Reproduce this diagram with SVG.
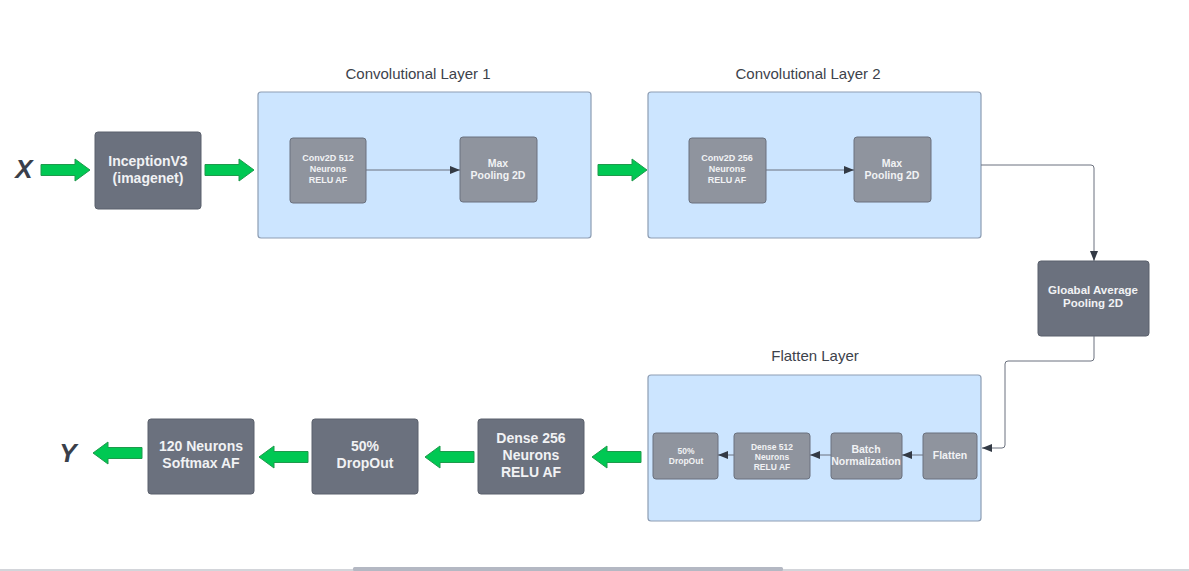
<svg xmlns="http://www.w3.org/2000/svg" width="1189" height="571" viewBox="0 0 1189 571">
<defs>
<style>
.dark{fill:#6b717e;stroke:#5a606c;stroke-width:1}
.light{fill:#8f949e;stroke:#6b717e;stroke-width:1}
.cont{fill:#cce5ff;stroke:#8d9db3;stroke-width:1.2}
.t1{font-family:"Liberation Sans",Arial,sans-serif;font-weight:bold;fill:#f1f2f4;text-anchor:middle}
.title{font-family:"Liberation Sans",Arial,sans-serif;font-size:15px;fill:#3d424b;text-anchor:middle}
.conn{fill:none;stroke:#6b717e;stroke-width:1}
.ga{fill:#00c853;stroke:#1e9a4c;stroke-width:1;stroke-linejoin:round}
.xy{font-family:"Liberation Sans",Arial,sans-serif;font-weight:bold;font-style:italic;font-size:26px;fill:#3a3f4a;text-anchor:middle}
</style>
<marker id="ah" markerWidth="10" markerHeight="8" refX="10" refY="4" orient="auto" markerUnits="userSpaceOnUse">
<path d="M0,0 L10,4 L0,8 Z" fill="#333a45"/>
</marker>
<path id="garrow" d="M0,-5.5 H34 V-11 L49,0 L34,11 V5.5 H0 Z"/>
</defs>
<rect width="1189" height="571" fill="#ffffff"/>

<text class="title" x="418" y="79">Convolutional Layer 1</text>
<text class="title" x="808" y="79">Convolutional Layer 2</text>
<text class="title" x="815" y="361">Flatten Layer</text>

<g id="x-label"><text class="xy" x="24" y="178">X</text></g>
<g id="y-label"><text class="xy" x="68" y="462">Y</text></g>

<g id="container1"><rect class="cont" x="258" y="92" width="333" height="146" rx="3"/></g>
<g id="container2"><rect class="cont" x="648" y="92" width="333" height="146" rx="3"/></g>
<g id="container3"><rect class="cont" x="648" y="375" width="333" height="146" rx="3"/></g>

<g id="inception"><rect class="dark" x="95" y="132" width="106" height="77" rx="3"/>
<text class="t1" font-size="14" x="148" y="166">InceptionV3</text>
<text class="t1" font-size="14" x="148" y="183">(imagenet)</text></g>

<g id="conv512"><rect class="light" x="290" y="138" width="76" height="65" rx="3"/>
<text class="t1" font-size="9" x="328" y="161">Conv2D 512</text>
<text class="t1" font-size="9" x="328" y="172">Neurons</text>
<text class="t1" font-size="9" x="328" y="183">RELU AF</text></g>

<g id="maxpool1"><rect class="light" x="460" y="137" width="77" height="65" rx="3"/>
<text class="t1" font-size="10.5" x="498" y="167">Max</text>
<text class="t1" font-size="10.5" x="498" y="179">Pooling 2D</text></g>

<g id="conv256"><rect class="light" x="689" y="138" width="77" height="65" rx="3"/>
<text class="t1" font-size="9" x="727" y="161">Conv2D 256</text>
<text class="t1" font-size="9" x="727" y="172">Neurons</text>
<text class="t1" font-size="9" x="727" y="183">RELU AF</text></g>

<g id="maxpool2"><rect class="light" x="854" y="137" width="77" height="65" rx="3"/>
<text class="t1" font-size="10.5" x="892" y="167">Max</text>
<text class="t1" font-size="10.5" x="892" y="179">Pooling 2D</text></g>

<g id="gap"><rect class="dark" x="1038" y="261" width="111" height="75" rx="3"/>
<text class="t1" font-size="11.5" x="1093" y="294">Gloabal Average</text>
<text class="t1" font-size="11.5" x="1093" y="307">Pooling 2D</text></g>

<g id="flatten"><rect class="light" x="923" y="433" width="54" height="46" rx="3"/>
<text class="t1" font-size="10.5" x="950" y="459">Flatten</text></g>

<g id="batchnorm"><rect class="light" x="831" y="433" width="71" height="46" rx="3"/>
<text class="t1" font-size="10.5" x="866" y="453">Batch</text>
<text class="t1" font-size="10.5" x="866" y="465">Normalization</text></g>

<g id="dense512"><rect class="light" x="734" y="433" width="76" height="46" rx="3"/>
<text class="t1" font-size="8.5" x="772" y="450">Dense 512</text>
<text class="t1" font-size="8.5" x="772" y="460">Neurons</text>
<text class="t1" font-size="8.5" x="772" y="470">RELU AF</text></g>

<g id="dropout-small"><rect class="light" x="653" y="433" width="65" height="46" rx="3"/>
<text class="t1" font-size="8.5" x="686" y="454">50%</text>
<text class="t1" font-size="8.5" x="686" y="464">DropOut</text></g>

<g id="dense256"><rect class="dark" x="478" y="419" width="106" height="75" rx="3"/>
<text class="t1" font-size="14" x="531" y="443">Dense 256</text>
<text class="t1" font-size="14" x="531" y="460">Neurons</text>
<text class="t1" font-size="14" x="531" y="477">RELU AF</text></g>

<g id="dropout"><rect class="dark" x="312" y="419" width="106" height="75" rx="3"/>
<text class="t1" font-size="14" x="365" y="451">50%</text>
<text class="t1" font-size="14" x="365" y="468">DropOut</text></g>

<g id="softmax"><rect class="dark" x="148" y="419" width="106" height="75" rx="3"/>
<text class="t1" font-size="14" x="201" y="451">120 Neurons</text>
<text class="t1" font-size="14" x="201" y="468">Softmax AF</text></g>

<g id="connectors">
<use href="#garrow" class="ga" transform="translate(41,170)"/>
<use href="#garrow" class="ga" transform="translate(205,170)"/>
<use href="#garrow" class="ga" transform="translate(598,170)"/>
<use href="#garrow" class="ga" transform="translate(641,457) scale(-1,1)"/>
<use href="#garrow" class="ga" transform="translate(474,457) scale(-1,1)"/>
<use href="#garrow" class="ga" transform="translate(308,457) scale(-1,1)"/>
<use href="#garrow" class="ga" transform="translate(142,453) scale(-1,1)"/>
<path class="conn" d="M366,170 H460" marker-end="url(#ah)"/>
<path class="conn" d="M766,170 H854" marker-end="url(#ah)"/>
<path class="conn" d="M981,165 H1091 Q1094,165 1094,168 V261" marker-end="url(#ah)"/>
<path class="conn" d="M1094,336 V358 Q1094,361 1091,361 H1008 Q1005,361 1005,364 V445 Q1005,448 1002,448 H982" marker-end="url(#ah)"/>
<path class="conn" d="M923,455 H902" marker-end="url(#ah)"/>
<path class="conn" d="M831,455 H810" marker-end="url(#ah)"/>
<path class="conn" d="M734,455 H718" marker-end="url(#ah)"/>
</g>

<rect x="0" y="569" width="1189" height="2" fill="#d3d5da"/>
<rect x="353" y="567" width="430" height="4" rx="1.5" fill="#b4b8c3"/>
</svg>
